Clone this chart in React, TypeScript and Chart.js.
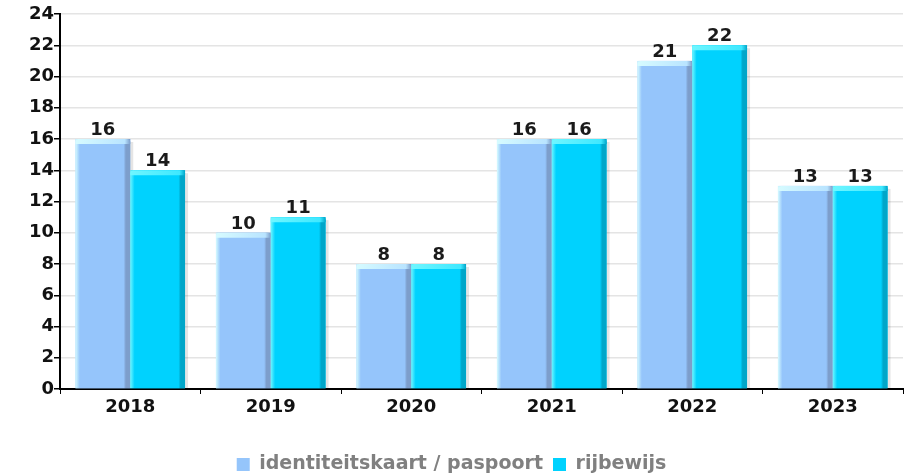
import React, { useEffect, useRef } from "react";
import { Chart, registerables } from "chart.js";

Chart.register(...registerables);

const categories = ["2018", "2019", "2020", "2021", "2022", "2023"];
const idValues = [16, 10, 8, 16, 21, 13];
const licenseValues = [14, 11, 8, 16, 22, 13];
const seriesNames = ["identiteitskaart / paspoort", "rijbewijs"];
const yTicks = [0, 2, 4, 6, 8, 10, 12, 14, 16, 18, 20, 22, 24];

const FONT = "'DejaVu Sans', sans-serif";

const palettes = [
  { main: "#95c5fb", light: "#d6fbff", dark: "#7d9ecb", cap: "#b9e4ff" },
  { main: "#00d2fe", light: "#6ff6ff", dark: "#00a6c9", cap: "#3fe8ff" },
];

const barStylePlugin = {
  id: "barStyle",
  afterDatasetsDraw(chart: any) {
    const ctx = chart.ctx;
    ctx.save();
    chart.data.datasets.forEach((ds: any, di: number) => {
      const meta = chart.getDatasetMeta(di);
      const p = palettes[di];
      meta.data.forEach((el: any) => {
        const w = el.width;
        const left = el.x - w / 2;
        const top = el.y;
        const bottom = el.base;
        const h = bottom - top;
        ctx.fillStyle = "rgba(0,0,0,0.10)";
        ctx.fillRect(left + w, top + 3, 3, h - 3);
        const g = ctx.createLinearGradient(left, 0, left + w, 0);
        g.addColorStop(0, p.light);
        g.addColorStop(0.08, p.main);
        g.addColorStop(0.88, p.main);
        g.addColorStop(0.92, p.dark);
        g.addColorStop(1, p.dark);
        ctx.fillStyle = g;
        ctx.fillRect(left, top, w, h);
        const capH = Math.min(5, h);
        const gc = ctx.createLinearGradient(left, 0, left + w, 0);
        gc.addColorStop(0, p.light);
        gc.addColorStop(0.9, p.cap);
        gc.addColorStop(1, p.dark);
        ctx.fillStyle = gc;
        ctx.beginPath();
        const r = 3;
        ctx.moveTo(left, top + capH);
        ctx.lineTo(left, top + r);
        ctx.quadraticCurveTo(left, top, left + r, top);
        ctx.lineTo(left + w - r, top);
        ctx.quadraticCurveTo(left + w, top, left + w, top + r);
        ctx.lineTo(left + w, top + capH);
        ctx.closePath();
        ctx.fill();
      });
    });
    ctx.fillStyle = "#1a1a1a";
    ctx.font = `bold 18px ${FONT}`;
    ctx.textAlign = "center";
    ctx.textBaseline = "alphabetic";
    chart.data.datasets.forEach((ds: any, di: number) => {
      const meta = chart.getDatasetMeta(di);
      meta.data.forEach((el: any, i: number) => {
        ctx.fillText(String(ds.data[i]), el.x, el.y - 4);
      });
    });
    ctx.restore();
  },
};

export default function App() {
  const ref = useRef<HTMLCanvasElement | null>(null);
  useEffect(() => {
    document.body.style.margin = "0";
    const chart = new Chart(ref.current!, {
      type: "bar",
      data: {
        labels: categories,
        datasets: [
          {
            label: seriesNames[0],
            data: idValues,
            backgroundColor: palettes[0].main,
            barPercentage: 1,
            categoryPercentage: 0.78,
          },
          {
            label: seriesNames[1],
            data: licenseValues,
            backgroundColor: palettes[1].main,
            barPercentage: 1,
            categoryPercentage: 0.78,
          },
        ],
      },
      options: {
        animation: false,
        responsive: false,
        maintainAspectRatio: false,
        layout: { padding: { top: 14, right: 12, left: 0, bottom: -9 } },
        plugins: {
          tooltip: { enabled: false },
          legend: {
            position: "bottom",
            labels: {
              font: { family: FONT, size: 19, weight: "bold" },
              color: "#808080",
              boxWidth: 13,
              boxHeight: 13,
              padding: 10,
              generateLabels: (chart: any) =>
                chart.data.datasets.map((ds: any, i: number) => ({
                  text: ds.label,
                  fillStyle: palettes[i].main,
                  strokeStyle: palettes[i].main,
                  lineWidth: 0,
                  hidden: false,
                  datasetIndex: i,
                  fontColor: "#808080",
                })),
            },
          },
        },
        scales: {
          x: {
            grid: {
              display: true,
              drawOnChartArea: false,
              drawTicks: true,
              tickLength: 5,
              tickColor: "#000",
              offset: true,
            },
            border: { display: true, color: "#000", width: 2 },
            ticks: {
              font: { family: FONT, size: 18, weight: "bold" },
              color: "#111",
              padding: 3,
            },
            afterFit: (scale: any) => {
              scale.height = 56;
            },
          },
          y: {
            min: 0,
            max: 24,
            afterBuildTicks: (scale: any) => {
              scale.ticks = yTicks.map((v) => ({ value: v }));
            },
            grid: {
              color: "#e4e4e4",
              lineWidth: 1.5,
              tickColor: "#000",
              tickLength: 6,
            },
            border: { display: true, color: "#000", width: 2 },
            ticks: {
              font: { family: FONT, size: 18, weight: "bold" },
              color: "#111",
              padding: 0,
            },
            afterFit: (scale: any) => {
              scale.width = 60;
            },
          },
        },
      },
      plugins: [barStylePlugin],
    });
    return () => chart.destroy();
  }, []);
  return (
    <div style={{ width: 915, height: 475 }}>
      <canvas ref={ref} width={915} height={475} style={{ display: "block" }} />
    </div>
  );
}
